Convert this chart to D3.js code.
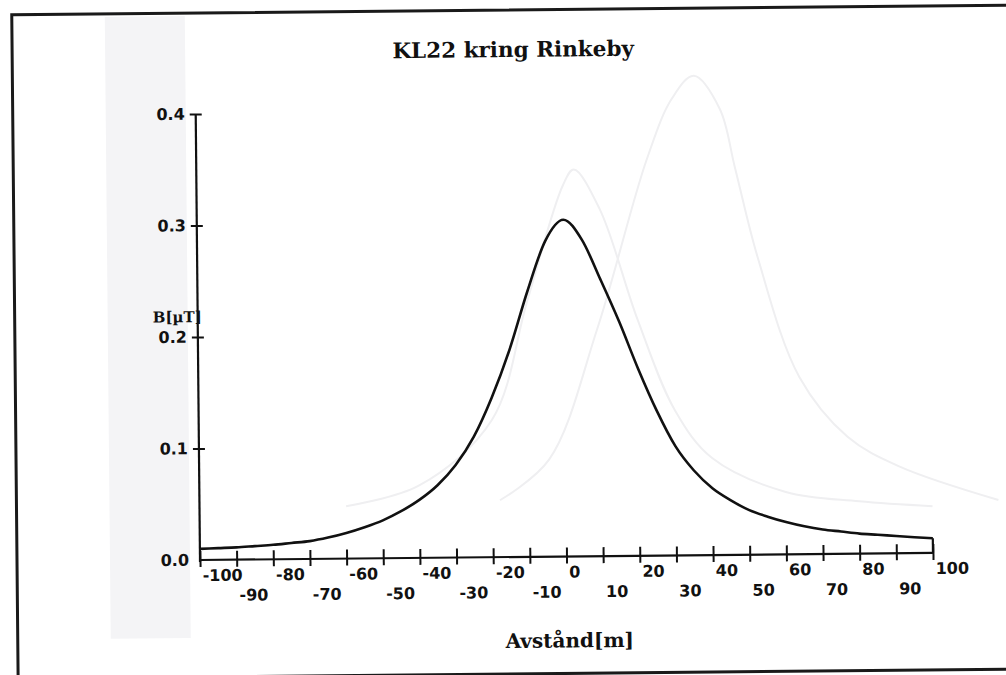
<!DOCTYPE html>
<html lang="sv">
<head>
<meta charset="UTF-8">
<title>KL22 kring Rinkeby</title>
<script src="https://cdn.jsdelivr.net/npm/d3@7"></script>
<style>
  html, body { margin: 0; padding: 0; background: #fff; }
</style>
</head>
<body>
<div id="chart"></div>
<script>
// avstånd från ledningen [m] och fältstyrka [µT]
const distance = [-100, -95, -90, -85, -80, -75, -70, -65, -60, -55, -50, -45, -40, -35, -30, -25, -20, -15, -10, -5,
                  0, 5, 10, 15, 20, 25, 30, 35, 40, 45, 50, 55, 60, 65, 70, 75, 80, 85, 90, 95, 100];
const field = [0.010, 0.0105, 0.011, 0.012, 0.013, 0.0145, 0.016, 0.019, 0.023, 0.028, 0.034, 0.042, 0.052, 0.065, 0.083, 0.108, 0.143, 0.186, 0.238, 0.283,
               0.302, 0.284, 0.248, 0.210, 0.168, 0.130, 0.098, 0.076, 0.060, 0.049, 0.040, 0.034, 0.029, 0.025, 0.022, 0.020, 0.018, 0.0168, 0.0155, 0.0143, 0.0132];

// faint curves showing through from the other side of the sheet
const ghostDistanceA = [-60, -40, -20, -10, 0, 3, 10, 20, 30, 40, 60, 80, 100];
const ghostFieldA = [0.047, 0.065, 0.123, 0.23, 0.333, 0.347, 0.311, 0.212, 0.13, 0.087, 0.056, 0.047, 0.042];
const ghostDistanceB = [-18, -4.5, 9, 23, 30, 36, 43, 47, 53, 64, 77, 91, 118];
const ghostFieldB = [0.051, 0.087, 0.204, 0.356, 0.41, 0.43, 0.40, 0.347, 0.266, 0.159, 0.105, 0.078, 0.047];

const xTickValues = [-100, -90, -80, -70, -60, -50, -40, -30, -20, -10, 0, 10, 20, 30, 40, 50, 60, 70, 80, 90, 100];
const yTickValues = [0.0, 0.1, 0.2, 0.3, 0.4];

const title = "KL22 kring Rinkeby";
const xLabel = "Avstånd[m]";
const yLabel = "B[µT]";

const width = 1006;
const height = 675;

const x = d3.scaleLinear().domain([-100, 100]).range([200, 933]);
const y = d3.scaleLinear().domain([0, 0.4]).range([560, 114]);

const svg = d3.select("#chart").append("svg")
    .attr("width", width)
    .attr("height", height);

// the scan is slightly tilted
const page = svg.append("g")
    .attr("transform", "rotate(-0.55,200,560)");

// show-through of the table on the back
page.append("rect")
    .attr("x", 110).attr("y", 16)
    .attr("width", 80).attr("height", 622)
    .attr("fill", "#f4f4f6");

const line = d3.line()
    .x(d => x(d[0]))
    .y(d => y(d[1]))
    .curve(d3.curveMonotoneX);

[[ghostDistanceA, ghostFieldA], [ghostDistanceB, ghostFieldB]].forEach(([xs, ys]) => {
    page.append("path")
        .datum(xs.map((d, i) => [d, ys[i]]))
        .attr("fill", "none")
        .attr("stroke", "#efeff1")
        .attr("stroke-width", 2)
        .attr("d", line.curve(d3.curveCatmullRom));
});
line.curve(d3.curveMonotoneX);

// frame
page.append("rect")
    .attr("x", 17).attr("y", 13)
    .attr("width", 1010).attr("height", 664)
    .attr("fill", "none")
    .attr("stroke", "#1a1a1a")
    .attr("stroke-width", 3);

page.append("text")
    .attr("x", 518).attr("y", 60)
    .attr("text-anchor", "middle")
    .attr("font-family", "DejaVu Serif")
    .attr("font-weight", "bold")
    .attr("font-size", 21.5)
    .attr("fill", "#111")
    .text(title);

const tickFont = "DejaVu Sans";

// y axis
page.append("g")
    .attr("transform", `translate(${x(-100)},0)`)
    .call(d3.axisLeft(y).tickValues(yTickValues).tickFormat(d3.format(".1f")).tickSize(6))
    .call(g => g.select(".domain").remove())
    .call(g => g.selectAll(".tick line")
        .attr("x1", -6).attr("x2", 6)
        .attr("stroke", "#111").attr("stroke-width", 2)
        .filter(d => d === 0).remove())
    .call(g => g.selectAll(".tick text")
        .attr("x", -11)
        .attr("font-family", tickFont)
        .attr("font-weight", "bold")
        .attr("font-size", 16)
        .attr("fill", "#111"));

page.append("line")
    .attr("x1", x(-100)).attr("x2", x(-100))
    .attr("y1", y(0.4)).attr("y2", y(0) + 2)
    .attr("stroke", "#111").attr("stroke-width", 2.2);

// x axis
page.append("g")
    .attr("transform", `translate(0,${y(0)})`)
    .call(d3.axisBottom(x).tickValues(xTickValues).tickFormat(d => String(d)).tickSize(8))
    .call(g => g.select(".domain").remove())
    .call(g => g.selectAll(".tick line")
        .attr("y1", -9).attr("y2", 7)
        .attr("stroke", "#111").attr("stroke-width", 2))
    .call(g => g.selectAll(".tick text")
        .attr("text-anchor", "start")
        .attr("x", 2)
        .attr("dy", null)
        .attr("y", (d, i) => i % 2 === 0 ? 21 : 41)
        .attr("font-family", tickFont)
        .attr("font-weight", "bold")
        .attr("font-size", 16)
        .attr("fill", "#111"));

page.append("line")
    .attr("x1", x(-100)).attr("x2", x(100))
    .attr("y1", y(0)).attr("y2", y(0))
    .attr("stroke", "#111").attr("stroke-width", 2.2);

// curve
const points = distance.map((d, i) => [d, field[i]]);

page.append("path")
    .datum(points)
    .attr("fill", "none")
    .attr("stroke", "#111")
    .attr("stroke-width", 2.6)
    .attr("d", line);

// closing drop at the right end
page.append("line")
    .attr("x1", x(100)).attr("x2", x(100))
    .attr("y1", y(field[field.length - 1])).attr("y2", y(0))
    .attr("stroke", "#111").attr("stroke-width", 2.2);

// axis titles
page.append("text")
    .attr("x", 569).attr("y", 651)
    .attr("text-anchor", "middle")
    .attr("font-family", "DejaVu Serif")
    .attr("font-weight", "bold")
    .attr("font-size", 20)
    .attr("fill", "#111")
    .text(xLabel);

page.append("text")
    .attr("x", 155).attr("y", 322)
    .attr("font-family", "DejaVu Serif")
    .attr("font-weight", "bold")
    .attr("font-size", 15)
    .attr("fill", "#111")
    .text(yLabel);
</script>
</body>
</html>
